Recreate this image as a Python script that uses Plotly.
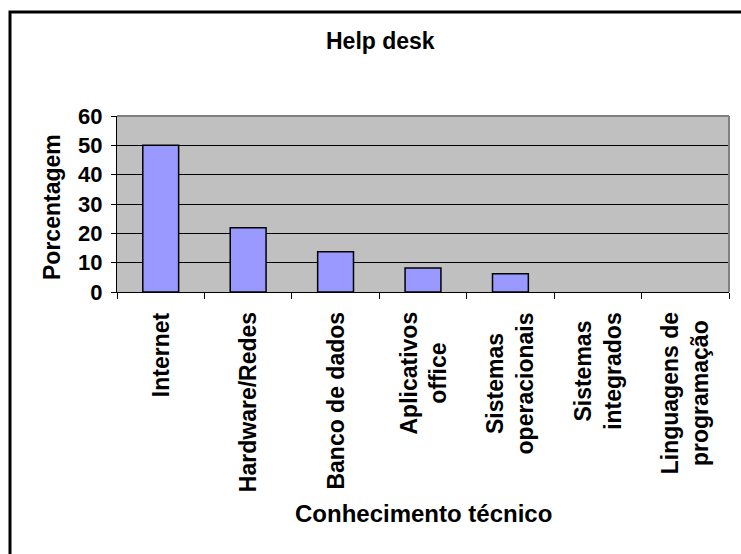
import plotly.graph_objects as go

# Survey results: technical knowledge required for help desk staff
categorias = [
    "Internet",
    "Hardware/Redes",
    "Banco de dados",
    "Aplicativos<br>office",
    "Sistemas<br>operacionais",
    "Sistemas<br>integrados",
    "Linguagens de<br>programação",
]
porcentagem = [50, 21.9, 13.7, 8.2, 6.2, 0, 0]
y_ticks = [0, 10, 20, 30, 40, 50, 60]

FONT = "Liberation Sans, Arial, sans-serif"
W, H = 741, 554
M_L, M_R, M_T, M_B = 117, 12, 116, 262
PW = W - M_L - M_R
PH = H - M_T - M_B


def px_x(p):
    return (p - M_L) / PW


def px_y(p):
    return (H - M_B - p) / PH


# empty categories get no outline, so nothing is drawn on the baseline
outline = [1.5 if v > 0 else 0 for v in porcentagem]

fig = go.Figure()
fig.add_trace(go.Bar(
    x=categorias,
    y=porcentagem,
    marker=dict(color="#9999FF", line=dict(color="black", width=outline)),
    hoverinfo="x+y",
))

annotations = []
# Category labels, rotated and centred line by line
for c in categorias:
    annotations.append(dict(
        x=c, xref="x", y=px_y(310), yref="paper",
        text=c, textangle=-90, showarrow=False,
        xanchor="center", yanchor="top", align="center",
        font=dict(family=FONT, size=23, color="black", weight="bold"),
    ))
annotations += [
    dict(x=px_x(380), y=px_y(41), xref="paper", yref="paper",
         text="Help desk", showarrow=False, xanchor="center", yanchor="middle",
         font=dict(family=FONT, size=23, color="black", weight="bold")),
    dict(x=0.5, y=px_y(513), xref="paper", yref="paper",
         text="Conhecimento técnico", showarrow=False,
         xanchor="center", yanchor="middle",
         font=dict(family=FONT, size=24, color="black", weight="bold")),
    dict(x=px_x(52), y=px_y(207), xref="paper", yref="paper",
         text="Porcentagem", showarrow=False, textangle=-90,
         xanchor="center", yanchor="middle",
         font=dict(family=FONT, size=23, color="black", weight="bold")),
]

shapes = [
    # grey frame on the top and right of the plotting area
    dict(type="line", xref="paper", yref="paper", x0=0, x1=1, y0=1, y1=1,
         line=dict(color="#808080", width=2), layer="above"),
    dict(type="line", xref="paper", yref="paper", x0=1, x1=1, y0=0, y1=1,
         line=dict(color="#808080", width=2), layer="above"),
    # outer chart border
    dict(type="rect", xref="paper", yref="paper",
         x0=px_x(10), x1=px_x(770), y0=px_y(580), y1=px_y(12),
         line=dict(color="black", width=3), fillcolor="rgba(0,0,0,0)",
         layer="above"),
]

fig.update_layout(
    width=W, height=H,
    margin=dict(l=M_L, r=M_R, t=M_T, b=M_B, pad=0),
    paper_bgcolor="white",
    plot_bgcolor="#C0C0C0",
    showlegend=False,
    bargap=0.59,
    font=dict(family=FONT, color="black"),
    annotations=annotations,
    shapes=shapes,
    xaxis=dict(
        type="category",
        categoryorder="array", categoryarray=categorias,
        range=[-0.5, len(categorias) - 0.5],
        showticklabels=False,
        ticks="outside", ticklen=6, tickcolor="black", tickwidth=1,
        tickson="boundaries",
        showline=True, linecolor="black", linewidth=1,
        showgrid=False, zeroline=False,
    ),
    yaxis=dict(
        range=[0, 60],
        tickvals=y_ticks,
        ticktext=[str(v) for v in y_ticks],
        ticks="outside", ticklen=5, tickcolor="black", tickwidth=1,
        tickfont=dict(family=FONT, size=22, color="black", weight="bold"),
        ticklabelstandoff=4,
        showline=True, linecolor="black", linewidth=1,
        showgrid=True, gridcolor="black", gridwidth=1,
        zeroline=False,
    ),
)

fig.write_html("out.html")
